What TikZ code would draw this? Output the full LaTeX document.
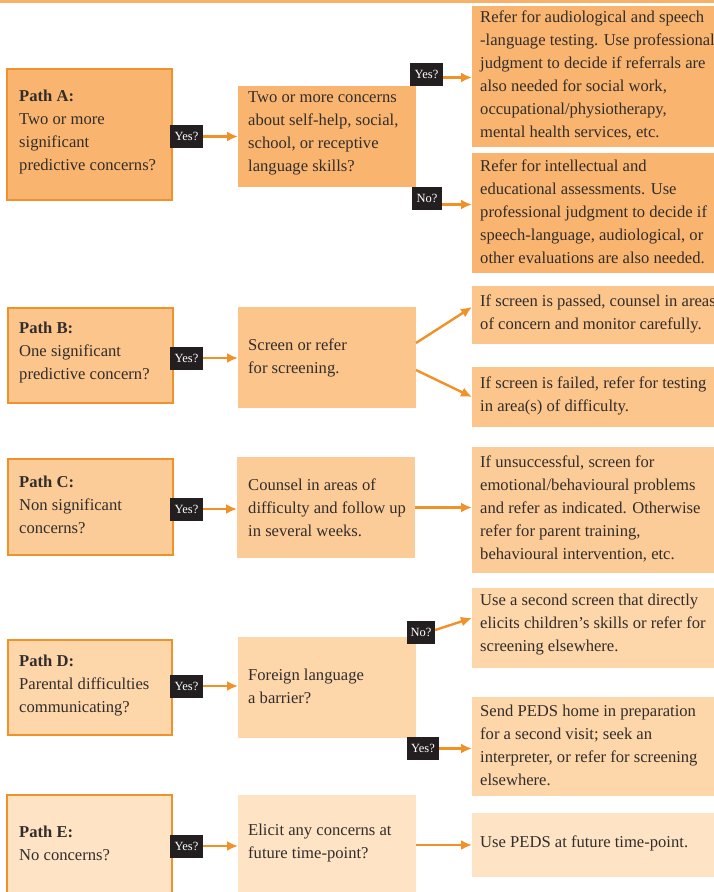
\documentclass[tikz,border=0pt]{standalone}
\usepackage{fontspec}
\setmainfont{Liberation Serif}
\usetikzlibrary{arrows.meta}
\definecolor{cA}{RGB}{249,181,111}
\definecolor{cB}{RGB}{251,197,140}
\definecolor{cC}{RGB}{252,204,152}
\definecolor{cD}{RGB}{253,214,170}
\definecolor{cE}{RGB}{254,227,197}
\definecolor{cBorder}{RGB}{240,146,44}
\definecolor{cArrow}{RGB}{240,146,40}
\definecolor{cTop}{RGB}{247,178,104}
\definecolor{cTag}{RGB}{35,31,32}
\definecolor{cText}{RGB}{50,45,43}
\begin{document}
\begin{tikzpicture}[x=1pt,y=-1pt,
  box/.style={inner sep=0pt, outer sep=0pt, anchor=north west, draw=none},
  lbox/.style={box, draw=cBorder, line width=1.8pt},
  txt/.style={anchor=west, align=left, inner sep=0pt, text=cText, font=\fontsize{16.6}{23}\selectfont},
  tag/.style={fill=cTag, text=white, inner sep=0pt, minimum width=33pt, minimum height=23pt, font=\fontsize{12.5}{13}\selectfont},
  arr/.style={draw=cArrow, line width=2.4pt, -{Latex[length=11pt,width=10pt]}}]
\useasboundingbox (0,0) rectangle (714,892);
\clip (0,0) rectangle (714,892);
\fill[cTop] (0,0) rectangle (714,2.5);

% ---------- Path A
\node[lbox, fill=cA, minimum width=165pt, minimum height=131pt] (lA) at (7,69) {};
\node[box, fill=cA, minimum width=178pt, minimum height=101pt] (mA) at (238,86) {};
\node[box, fill=cA, minimum width=250pt, minimum height=141pt] (rA1) at (472,6) {};
\node[box, fill=cA, minimum width=250pt, minimum height=120pt] (rA2) at (472,153) {};
\node[txt] (tlA) at ([xshift=12pt,yshift=2pt]lA.west) {\textbf{Path A:}\\Two or more\\significant\\predictive concerns?};
\node[txt] (tmA) at ([xshift=10pt,yshift=3pt]mA.west) {Two or more concerns\\about self-help, social,\\school, or receptive\\language skills?};
\node[txt] (trA1) at ([xshift=8pt,yshift=1pt]rA1.west) {Refer for audiological and speech\\-language testing. Use professional\\judgment to decide if referrals are\\also needed for social work,\\occupational/physiotherapy,\\mental health services, etc.};
\node[txt] (trA2) at ([xshift=8pt,yshift=1pt]rA2.west) {Refer for intellectual and\\educational assessments. Use\\professional judgment to decide if\\speech-language, audiological, or\\other evaluations are also needed.};

% ---------- Path B
\node[lbox, fill=cB, minimum width=165pt, minimum height=95pt] (lB) at (8,308) {};
\node[box, fill=cB, minimum width=178pt, minimum height=101pt] (mB) at (238,307) {};
\node[box, fill=cB, minimum width=250pt, minimum height=58pt] (rB1) at (472,286) {};
\node[box, fill=cB, minimum width=250pt, minimum height=60pt] (rB2) at (472,367) {};
\node[txt] (tlB) at ([xshift=11pt,yshift=3pt]lB.west) {\textbf{Path B:}\\One significant\\predictive concern?};
\node[txt] (tmB) at ([xshift=10pt,yshift=0pt]mB.west) {Screen or refer\\for screening.};
\node[txt] (trB1) at ([xshift=8pt,yshift=1pt]rB1.west) {If screen is passed, counsel in areas\\of concern and monitor carefully.};
\node[txt] (trB2) at ([xshift=8pt,yshift=1pt]rB2.west) {If screen is failed, refer for testing\\in area(s) of difficulty.};

% ---------- Path C
\node[lbox, fill=cC, minimum width=165pt, minimum height=96pt] (lC) at (8,459) {};
\node[box, fill=cC, minimum width=178pt, minimum height=101pt] (mC) at (237,457) {};
\node[box, fill=cC, minimum width=250pt, minimum height=126pt] (rC) at (472,447) {};
\node[txt] (tlC) at ([xshift=11pt,yshift=2pt]lC.west) {\textbf{Path C:}\\Non significant\\concerns?};
\node[txt] (tmC) at ([xshift=11pt,yshift=0pt]mC.west) {Counsel in areas of\\difficulty and follow up\\in several weeks.};
\node[txt] (trC) at ([xshift=8pt,yshift=1pt]rC.west) {If unsuccessful, screen for\\emotional/behavioural problems\\and refer as indicated. Otherwise\\refer for parent training,\\behavioural intervention, etc.};

% ---------- Path D
\node[lbox, fill=cD, minimum width=164pt, minimum height=95pt] (lD) at (8,640) {};
\node[box, fill=cD, minimum width=178pt, minimum height=101pt] (mD) at (238,637) {};
\node[box, fill=cD, minimum width=250pt, minimum height=80pt] (rD1) at (472,588) {};
\node[box, fill=cD, minimum width=250pt, minimum height=99pt] (rD2) at (472,697) {};
\node[txt] (tlD) at ([xshift=11pt,yshift=2pt]lD.west) {\textbf{Path D:}\\Parental difficulties\\communicating?};
\node[txt] (tmD) at ([xshift=10pt,yshift=1pt]mD.west) {Foreign language\\a barrier?};
\node[txt] (trD1) at ([xshift=8pt,yshift=3pt]rD1.west) {Use a second screen that directly\\elicits children's skills or refer for\\screening elsewhere.};
\node[txt] (trD2) at ([xshift=8pt,yshift=1pt]rD2.west) {Send PEDS home in preparation\\for a second visit; seek an\\interpreter, or refer for screening\\elsewhere.};

% ---------- Path E
\node[lbox, fill=cE, minimum width=165pt, minimum height=100pt] (lE) at (7,795) {};
\node[box, fill=cE, minimum width=178pt, minimum height=100pt] (mE) at (238,795) {};
\node[box, fill=cE, minimum width=250pt, minimum height=64pt] (rE) at (472,813) {};
\node[txt] (tlE) at ([xshift=12pt,yshift=2pt]lE.west) {\textbf{Path E:}\\No concerns?};
\node[txt] (tmE) at ([xshift=10pt,yshift=2pt]mE.west) {Elicit any concerns at\\future time-point?};
\node[txt] (trE) at ([xshift=8pt,yshift=2pt]rE.west) {Use PEDS at future time-point.};

% ---------- tags
\node[tag] (yA) at (186.5,136.5) {Yes?};
\node[tag] (yA2) at (426.5,74.5) {Yes?};
\node[tag, minimum width=30pt] (nA) at (427,198.5) {No?};
\node[tag] (yB) at (186.5,358) {Yes?};
\node[tag] (yC) at (186.5,509) {Yes?};
\node[tag] (yD) at (186.5,686) {Yes?};
\node[tag, minimum width=28pt] (nD) at (421,632) {No?};
\node[tag, minimum width=32pt] (yD2) at (423,748.5) {Yes?};
\node[tag] (yE) at (186.5,846) {Yes?};

% ---------- arrows
\draw[arr] (yA.east) -- (yA.east -| mA.west);
\draw[arr] ([yshift=-3pt]yA2.east) -- ([yshift=-3pt]yA2.east -| rA1.west);
\draw[arr] ([yshift=-6pt]nA.east) -- ([yshift=-6pt]nA.east -| rA2.west);
\draw[arr] (yB.east) -- (yB.east -| mB.west);
\draw[arr] ([yshift=14.5pt]mB.east) -- ([yshift=8pt]rB1.west);
\draw[arr] ([yshift=-12.5pt]mB.east) -- (rB2.west);
\draw[arr] (yC.east) -- (yC.east -| mC.west);
\draw[arr] (mC.east) -- (mC.east -| rC.west);
\draw[arr] (yD.east) -- (yD.east -| mD.west);
\draw[arr] ([yshift=2pt]nD.east) -- ([yshift=10pt]rD1.west);
\draw[arr] (yD2.east) -- (yD2.east -| rD2.west);
\draw[arr] (yE.east) -- (yE.east -| mE.west);
\draw[arr] (mE.east) -- (mE.east -| rE.west);
\end{tikzpicture}
\end{document}
